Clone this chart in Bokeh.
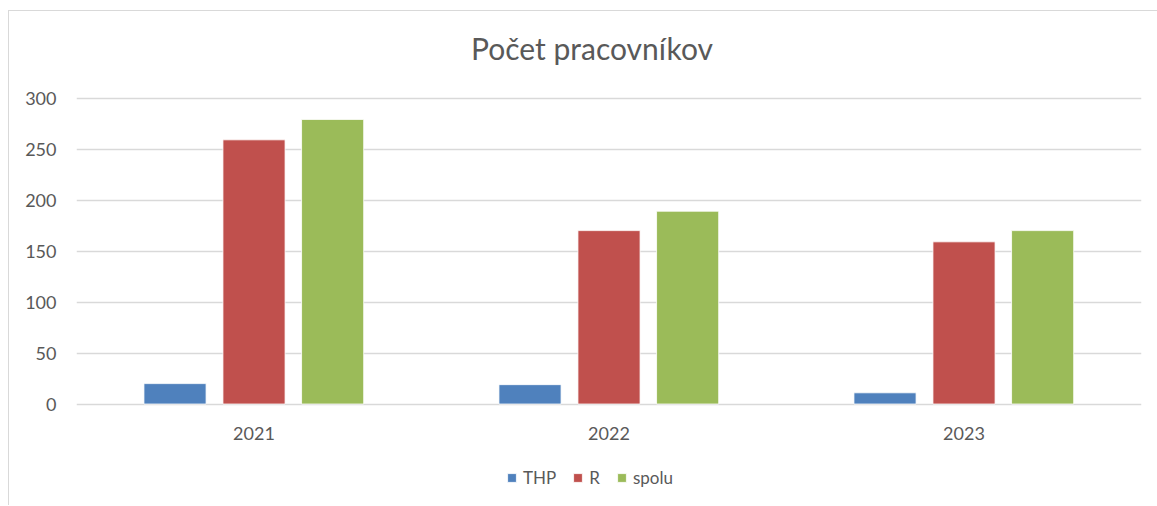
from bokeh.plotting import figure
from bokeh.models import (FactorRange, Range1d, FixedTicker, Legend, LegendItem,
                          ColumnDataSource, Label)
from bokeh.transform import dodge
from bokeh.embed import file_html
from bokeh.resources import INLINE

title_text = "Počet pracovníkov"
years = ["2021", "2022", "2023"]
thp = [20, 19, 11]
r = [259, 170, 159]
spolu = [279, 189, 170]
series_names = ["THP", "R", "spolu"]
colors = ["#4F81BD", "#C0504D", "#9BBB59"]
y_ticks = [0, 50, 100, 150, 200, 250, 300]

FONT = "Lato"
TXT = "#595959"

src = ColumnDataSource(dict(year=years, THP=thp, R=r, spolu=spolu))

# frame spans the full canvas height; y=0 at 403.5px, y=300 at 97.5px
p = figure(width=1149, height=495, x_range=FactorRange(*years), y_range=Range1d(-98.5, 384.8),
           output_backend="svg", toolbar_location=None,
           min_border_left=67, min_border_right=17, min_border_top=0, min_border_bottom=2)
p.styles = {"margin-left": "8px", "margin-top": "10px",
            "border-left": "1px solid #d9d9d9", "border-top": "1px solid #d9d9d9"}
p.outline_line_color = None

offsets = [-0.2225, 0.0, 0.2215]
renderers = []
for name, off, c in zip(series_names, offsets, colors):
    rr = p.vbar(x=dodge("year", off, range=p.x_range), top=name, width=0.175, source=src,
                fill_color=c, line_color="white", line_width=0.8)
    renderers.append(rr)

p.yaxis.ticker = FixedTicker(ticks=y_ticks)
p.xaxis.fixed_location = 0
for ax in (p.xaxis, p.yaxis):
    ax.axis_line_color = None
    ax.major_tick_line_color = None
    ax.minor_tick_line_color = None
    ax.major_label_text_font = FONT
    ax.major_label_text_font_size = "18px"
    ax.major_label_text_color = TXT
p.yaxis.major_label_standoff = 14
p.xaxis.major_label_standoff = 17
p.xgrid.grid_line_color = None
p.ygrid.grid_line_color = "#d9d9d9"
p.ygrid.grid_line_width = 1.5

# title centred (in synthetic categorical coordinates) near the middle of the chart
title = Label(x=len(years) / 2, y=349.5, x_offset=-17, text=title_text, text_align="center",
              text_baseline="middle", text_font=FONT, text_font_size="30px", text_color=TXT)
p.add_layout(title)

legend = Legend(items=[LegendItem(label=n, renderers=[rr]) for n, rr in zip(series_names, renderers)],
                orientation="horizontal", location=(430, 16))
legend.label_text_font = FONT
legend.label_text_font_size = "17px"
legend.label_text_color = TXT
legend.glyph_width = 11
legend.glyph_height = 11
legend.label_standoff = 6
legend.label_width = 0
legend.spacing = 16
legend.border_line_color = None
legend.background_fill_alpha = 0
legend.margin = 0
legend.padding = 0
p.add_layout(legend)

open("out.html", "w").write(file_html(p, INLINE))
